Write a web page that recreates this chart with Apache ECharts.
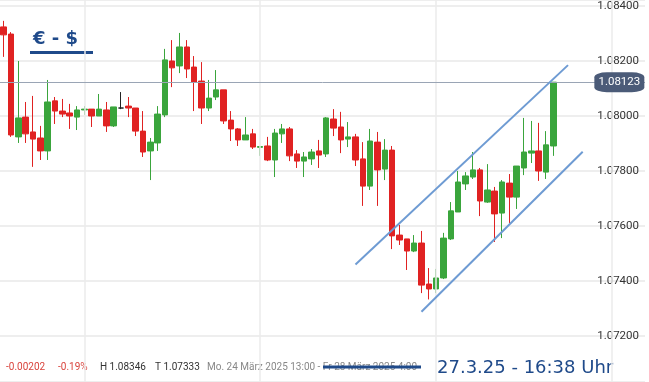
<!DOCTYPE html>
<html><head><meta charset="utf-8">
<script src="https://cdn.jsdelivr.net/npm/echarts@6/dist/echarts.min.js"></script>
<style>html,body{margin:0;padding:0;background:#fff}#c{width:649px;height:382px}</style>
</head><body><div id="c"></div>
<script>
// hourly candles from Mo 24.03.2025 13:00
const startTime = Date.UTC(2025, 2, 24, 13, 0);
const slotCount = 88; // visible hourly slots (76 candles + empty space on the right)
const opens = [1.08324,1.08298,1.07924,1.07996,1.07942,1.07920,1.07873,1.08055,1.08018,1.08011,
  1.07996,1.08022,1.08025,1.08000,1.08022,1.07964,1.08029,1.08036,1.08029,1.07945,
  1.07873,1.07902,1.08004,1.08200,1.08182,1.08251,1.08178,1.08127,1.08029,1.08069,
  1.08095,1.07985,1.07953,1.07913,1.07935,1.07886,1.07891,1.07840,1.07935,1.07953,
  1.07862,1.07836,1.07844,1.07873,1.07862,1.07989,1.07960,1.07916,1.07924,1.07844,
  1.07745,1.07905,1.07807,1.07876,1.07567,1.07553,1.07509,1.07538,1.07389,1.07371,
  1.07411,1.07553,1.07651,1.07753,1.07778,1.07804,1.07687,1.07727,1.07647,1.07756,
  1.07705,1.07811,1.07865,1.07873,1.07796,1.07891];
const closes = [1.08295,1.07931,1.07993,1.07935,1.07916,1.07873,1.08051,1.08018,1.08007,1.08000,
  1.08022,1.08025,1.08000,1.08025,1.07964,1.08033,1.08029,1.08029,1.07945,1.07869,
  1.07905,1.08007,1.08204,1.08175,1.08251,1.08171,1.08123,1.08029,1.08065,1.08095,
  1.07982,1.07953,1.07913,1.07931,1.07887,1.07889,1.07840,1.07938,1.07953,1.07855,
  1.07836,1.07851,1.07869,1.07858,1.07993,1.07956,1.07913,1.07924,1.07840,1.07745,
  1.07909,1.07804,1.07876,1.07564,1.07549,1.07509,1.07538,1.07385,1.07371,1.07411,
  1.07556,1.07655,1.07760,1.07782,1.07804,1.07691,1.07731,1.07644,1.07760,1.07705,
  1.07818,1.07869,1.07873,1.07800,1.07895,1.08123];
const lows = [1.08215,1.07924,1.07902,1.07902,1.07815,1.07840,1.07840,1.07971,1.07996,1.07953,
  1.07949,1.08004,1.07960,1.08000,1.07942,1.07960,1.08025,1.07996,1.07927,1.07851,
  1.07767,1.07873,1.07996,1.08105,1.08156,1.08138,1.08018,1.07971,1.08018,1.08058,
  1.07971,1.07909,1.07891,1.07913,1.07880,1.07855,1.07836,1.07778,1.07902,1.07836,
  1.07811,1.07778,1.07822,1.07811,1.07851,1.07927,1.07865,1.07887,1.07818,1.07673,
  1.07731,1.07673,1.07767,1.07516,1.07531,1.07440,1.07505,1.07356,1.07333,1.07356,
  1.07407,1.07549,1.07651,1.07731,1.07771,1.07636,1.07684,1.07542,1.07556,1.07611,
  1.07662,1.07785,1.07829,1.07764,1.07771,1.07855];
const highs = [1.08346,1.08305,1.08200,1.08051,1.08073,1.07964,1.08131,1.08069,1.08062,1.08044,
  1.08036,1.08036,1.08025,1.08080,1.08051,1.08033,1.08087,1.08069,1.08029,1.08018,
  1.07920,1.08036,1.08244,1.08276,1.08302,1.08276,1.08218,1.08196,1.08131,1.08167,
  1.08095,1.08018,1.07956,1.07996,1.07953,1.07891,1.07924,1.07953,1.07971,1.07960,
  1.07876,1.07869,1.07880,1.07913,1.07996,1.08025,1.08015,1.07978,1.07935,1.07905,
  1.07953,1.07942,1.07916,1.07891,1.07604,1.07553,1.07567,1.07582,1.07447,1.07444,
  1.07575,1.07687,1.07800,1.07796,1.07869,1.07811,1.07825,1.07742,1.07767,1.07789,
  1.07818,1.07993,1.07982,1.07975,1.07945,1.08123];
// drawn trend channel: [slot index, price]
const channelUpper = [[48, 1.07460], [77, 1.08185]];
const channelLower = [[57, 1.07288], [79, 1.07870]];
const dayStartSlots = [11, 35, 59, 83]; // midnight of each day
const lastPrice = 1.08123;
const yMin = 1.070327, yMax = 1.084218;
const changeAbs = '-0.00202', changePct = '-0.19%';

const categories = [];
for (let i = 0; i < slotCount; i++) {
  const d = new Date(startTime + i * 3600000);
  categories.push(d.getUTCDate() + '.' + (d.getUTCMonth() + 1) + ' ' + d.getUTCHours() + ':00');
}
const UP = '#3aa53c', DOWN = '#e02222', BLUE = '#1f4a8a';
const candleData = opens.map((o, i) => {
  const item = { value: [o, closes[i], lows[i], highs[i]] };
  if (o === closes[i]) item.itemStyle = { color: '#222', color0: '#222', borderColor: '#222', borderColor0: '#222' };
  return item;
});
const hi = Math.max(...highs).toFixed(5), lo = Math.min(...lows).toFixed(5);

const chart = echarts.init(document.getElementById('c'), null, { renderer: 'canvas' });
const smallFont = '10px Roboto';
chart.setOption({
  animation: false,
  backgroundColor: '#fff',
  grid: { left: 0, right: 4, top: 0, bottom: 0 },
  xAxis: {
    type: 'category', data: categories, boundaryGap: true,
    axisLine: { show: false }, axisTick: { show: false }, axisLabel: { show: false }, splitLine: { show: false }
  },
  yAxis: {
    type: 'value', position: 'right', min: yMin, max: yMax, splitNumber: 7,
    axisLine: { show: false }, axisTick: { show: false },
    axisLabel: { inside: true, margin: 6, color: '#333', fontFamily: 'Roboto', fontSize: 11.5,
      showMinLabel: false, showMaxLabel: false, formatter: v => v.toFixed(5) },
    splitLine: { lineStyle: { color: '#e9e9e9', width: 1.5 } }
  },
  series: [
    {
      type: 'line', data: [], z: 1, silent: true,
      markLine: {
        silent: true, symbol: ['none', 'none'], label: { show: false }, animation: false, precision: 5,
        data: dayStartSlots.map(s => ({ xAxis: categories[s], lineStyle: { color: '#ebebeb', width: 1.5, type: 'solid' } }))
          .concat([{ yAxis: lastPrice, lineStyle: { color: '#9aa5b5', width: 1, type: 'solid' } }])
      }
    },
    {
      type: 'candlestick', data: candleData, barWidth: 6, z: 2,
      itemStyle: { color: UP, color0: DOWN, borderColor: UP, borderColor0: DOWN, borderWidth: 1 },
      markPoint: {
        silent: true, animation: false,
        data: [{ coord: [categories[84], lastPrice], symbol: 'roundRect', symbolSize: [50, 20],
          itemStyle: { color: '#4b5b78' },
          label: { show: true, position: 'inside', formatter: lastPrice.toFixed(5), color: '#fff', fontFamily: 'Roboto', fontSize: 11.5 } }]
      }
    },
    { type: 'line', data: channelUpper, symbol: 'none', z: 5, lineStyle: { color: '#6e9bd3', width: 2 } },
    { type: 'line', data: channelLower, symbol: 'none', z: 5, lineStyle: { color: '#6e9bd3', width: 2 } }
  ],
  graphic: [
    { type: 'text', left: 33, top: 30, style: { text: '€ - $', fill: BLUE, font: 'bold 18px "DejaVu Sans"' } },
    { type: 'rect', shape: { x: 30, y: 51, width: 63, height: 3 }, style: { fill: BLUE } },
    { type: 'text', x: 6, y: 367, style: { text: changeAbs, fill: '#d9443d', font: smallFont, verticalAlign: 'middle' } },
    { type: 'text', x: 58, y: 367, style: { text: changePct, fill: '#d9443d', font: smallFont, verticalAlign: 'middle' } },
    { type: 'text', x: 100, y: 367, style: { text: 'H ' + hi, fill: '#333', font: smallFont, verticalAlign: 'middle' } },
    { type: 'text', x: 155, y: 367, style: { text: 'T ' + lo, fill: '#333', font: smallFont, verticalAlign: 'middle' } },
    { type: 'text', x: 207, y: 367, style: { text: 'Mo. 24 März 2025 13:00 - Fr 28 März 2025 4:00', fill: '#888', font: smallFont, verticalAlign: 'middle' } },
    { type: 'rect', shape: { x: 323, y: 365.5, width: 98, height: 3 }, style: { fill: BLUE } },
    { type: 'text', x: 437, y: 368, style: { text: '27.3.25 - 16:38 Uhr', fill: BLUE, font: '18px "DejaVu Sans"', verticalAlign: 'middle' } }
  ]
});
</script></body></html>
